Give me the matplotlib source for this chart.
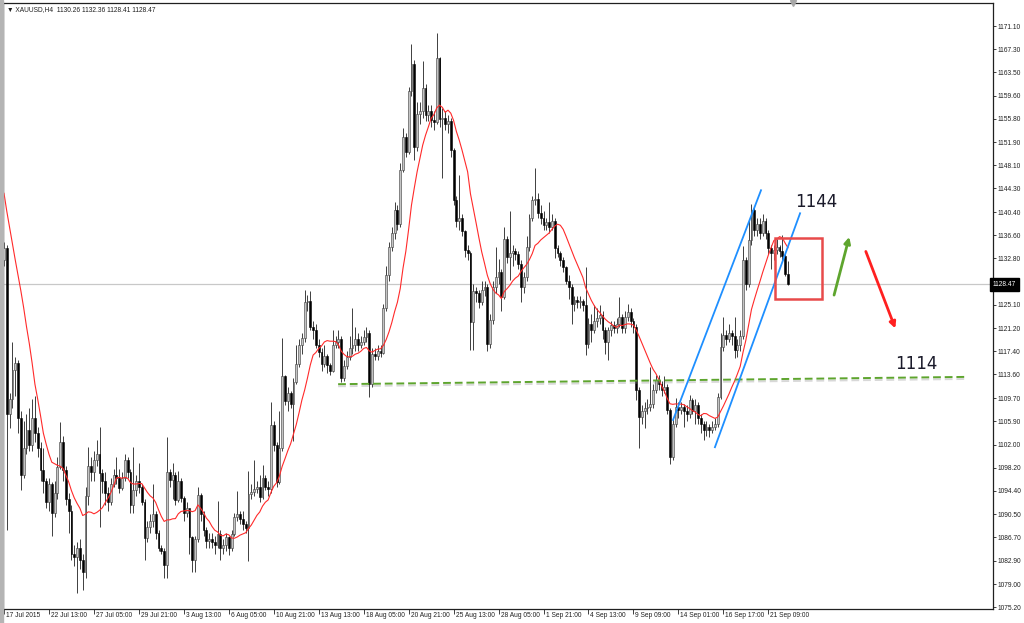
import numpy as np
import pandas as pd
import matplotlib
matplotlib.use("Agg")
from matplotlib import pyplot as plt
from matplotlib import patheffects as pe
from matplotlib import transforms as mtrans

# XAUUSD H4 (bar index 0 = 17 Jul 2015)
first_open = 1132.5
closes = [
    1134.5, 1107.0, 1109.5, 1114.3, 1115.5, 1106.5, 1097.0, 1101.5, 1104.5, 1102.0,
    1106.5, 1104.0, 1101.5, 1097.8, 1096.0, 1092.5, 1095.5, 1090.7, 1094.0, 1098.4,
    1102.5, 1097.8, 1093.0, 1091.0, 1084.0, 1083.5, 1085.0, 1083.0, 1081.0, 1093.5,
    1098.5, 1097.5, 1099.5, 1100.5, 1097.3, 1096.0, 1094.0, 1092.5, 1095.5, 1097.0,
    1096.5, 1094.8, 1096.5, 1099.5, 1097.5, 1092.0, 1094.5, 1096.0, 1095.0, 1092.5,
    1086.6, 1088.5, 1089.5, 1090.5, 1087.4, 1085.0, 1084.5, 1082.2, 1097.5, 1096.2,
    1097.0, 1092.9, 1096.0, 1093.2, 1090.7, 1091.5, 1086.8, 1083.0, 1086.5, 1093.7,
    1090.5, 1088.0, 1086.1, 1086.5, 1086.0, 1085.5, 1087.3, 1085.0, 1085.5, 1086.7,
    1084.9, 1087.3, 1090.1, 1090.5, 1089.8, 1088.9, 1088.3, 1093.8, 1094.2, 1094.7,
    1095.0, 1093.4, 1096.5, 1095.0, 1094.7, 1105.3, 1102.0, 1095.9, 1101.4, 1113.3,
    1109.3, 1110.5, 1108.7, 1112.4, 1115.4, 1118.5, 1119.7, 1125.5, 1125.8, 1121.5,
    1121.0, 1118.5, 1117.3, 1115.4, 1116.6, 1115.1, 1114.2, 1118.5, 1119.0, 1119.5,
    1113.0, 1115.0, 1116.5, 1118.0, 1118.5, 1119.5, 1118.5, 1119.0, 1119.8, 1120.4,
    1112.1, 1117.0, 1116.6, 1117.5, 1117.2, 1124.6, 1130.0, 1134.7, 1136.9, 1140.7,
    1138.5, 1147.3, 1152.8, 1150.3, 1160.3, 1164.9, 1151.2, 1156.6, 1157.0, 1160.8,
    1156.4, 1157.0, 1155.6, 1155.2, 1165.8, 1155.7, 1156.0, 1155.0, 1155.5, 1150.6,
    1142.4, 1139.0, 1139.5, 1137.2, 1134.1, 1133.6, 1122.3, 1127.3, 1127.0, 1125.5,
    1127.5, 1128.0, 1118.7, 1122.6, 1128.1, 1129.7, 1130.5, 1126.4, 1136.0, 1133.0,
    1133.6, 1134.0, 1133.5, 1131.9, 1128.1, 1129.7, 1134.7, 1139.4, 1142.4, 1142.5,
    1140.2, 1139.5, 1138.3, 1138.8, 1138.0, 1139.0, 1134.4, 1133.6, 1132.5, 1131.4,
    1129.0, 1128.1, 1125.3, 1125.9, 1125.5, 1125.7, 1125.0, 1118.7, 1122.0, 1121.0,
    1122.5, 1123.0, 1123.4, 1120.9, 1119.0, 1120.9, 1121.8, 1121.2, 1122.0, 1123.1,
    1121.2, 1123.1, 1123.9, 1122.5, 1121.5, 1111.0, 1106.6, 1107.5, 1108.0, 1108.3,
    1108.8, 1111.0, 1112.7, 1112.0, 1111.0, 1111.6, 1107.7, 1100.0, 1105.5, 1108.3,
    1107.7, 1108.2, 1107.5, 1107.0, 1109.4, 1107.5, 1108.5, 1106.5, 1105.5, 1104.4,
    1105.0, 1104.5, 1105.0, 1105.5, 1109.9, 1118.2, 1120.1, 1119.5, 1120.5, 1119.9,
    1117.6, 1118.5, 1120.0, 1132.5, 1128.6, 1135.8, 1140.7, 1137.5, 1138.5, 1137.0,
    1139.0, 1136.9, 1134.5, 1133.6, 1134.1, 1134.6, 1134.0, 1133.2, 1130.26, 1128.47,
]
highs = [
    1135.5, 1135.0, 1110.5, 1119.0, 1116.5, 1116.0, 1107.5, 1106.0, 1107.0, 1108.0,
    1109.6, 1110.0, 1105.0, 1102.5, 1101.5, 1096.5, 1096.5, 1095.8, 1096.0, 1100.0,
    1105.8, 1103.5, 1098.5, 1094.0, 1092.0, 1085.5, 1086.0, 1086.5, 1084.0, 1095.0,
    1101.7, 1100.0, 1100.9, 1102.8, 1105.0, 1098.0, 1097.5, 1095.0, 1096.5, 1098.0,
    1100.0, 1098.0, 1097.5, 1100.5, 1100.0, 1098.0, 1101.6, 1097.0, 1099.0, 1095.5,
    1093.0, 1089.5, 1090.5, 1095.6, 1091.0, 1088.0, 1085.5, 1085.0, 1103.3, 1098.0,
    1099.0, 1097.5, 1097.7, 1096.5, 1093.5, 1092.5, 1091.5, 1087.0, 1087.0, 1095.0,
    1094.0, 1091.0, 1088.5, 1087.5, 1087.5, 1087.0, 1092.8, 1088.0, 1086.5, 1087.5,
    1087.0, 1088.0, 1090.7, 1094.4, 1091.0, 1091.0, 1089.5, 1097.7, 1095.5, 1099.5,
    1096.0, 1097.0, 1098.6, 1097.0, 1096.0, 1109.0, 1106.0, 1102.5, 1107.5, 1119.7,
    1113.5, 1111.5, 1110.8, 1113.0, 1118.5, 1119.5, 1120.5, 1127.6, 1126.7, 1127.3,
    1122.5, 1122.0, 1119.5, 1118.0, 1118.5, 1117.0, 1115.5, 1120.9, 1120.0, 1121.0,
    1120.0, 1116.0, 1117.5, 1120.0, 1124.6, 1121.5, 1120.5, 1120.0, 1121.0, 1121.5,
    1121.0, 1118.0, 1118.0, 1118.5, 1118.5, 1125.3, 1131.5, 1135.5, 1138.0, 1142.0,
    1141.5, 1148.5, 1154.2, 1153.5, 1161.0, 1168.2, 1165.5, 1158.5, 1158.5, 1165.3,
    1161.5, 1158.0, 1158.0, 1157.0, 1170.0, 1166.0, 1157.5, 1157.0, 1156.5, 1156.0,
    1151.0, 1143.0, 1146.5, 1140.0, 1137.5, 1135.0, 1134.0, 1128.5, 1128.0, 1127.5,
    1129.0, 1129.0, 1128.5, 1123.5, 1129.0, 1134.7, 1132.7, 1131.0, 1138.0, 1136.5,
    1140.5, 1135.0, 1134.5, 1134.0, 1132.5, 1130.5, 1136.5, 1140.1, 1143.0, 1147.7,
    1143.5, 1141.5, 1140.5, 1139.5, 1142.0, 1140.0, 1139.5, 1135.0, 1134.0, 1133.0,
    1131.5, 1130.0, 1128.5, 1126.5, 1126.5, 1126.5, 1126.0, 1131.4, 1123.0, 1123.5,
    1125.0, 1124.5, 1125.0, 1124.0, 1121.5, 1121.5, 1122.5, 1122.5, 1123.0, 1126.4,
    1123.5, 1124.0, 1125.3, 1124.5, 1123.0, 1122.0, 1111.5, 1108.5, 1109.0, 1109.5,
    1114.9, 1112.0, 1113.5, 1113.5, 1112.5, 1113.3, 1112.0, 1108.0, 1106.5, 1109.7,
    1109.0, 1109.0, 1108.8, 1108.5, 1110.2, 1109.8, 1109.5, 1109.0, 1107.0, 1106.0,
    1106.0, 1105.5, 1106.0, 1106.5, 1110.5, 1120.5, 1123.1, 1121.0, 1122.0, 1121.0,
    1123.1, 1119.5, 1121.0, 1134.8, 1133.0, 1139.3, 1141.8, 1141.3, 1139.5, 1139.5,
    1140.0, 1139.5, 1137.5, 1135.0, 1135.0, 1136.0, 1135.0, 1136.6, 1133.5, 1132.36,
]
lows = [
    1131.5, 1088.0, 1104.7, 1108.0, 1110.0, 1104.0, 1094.5, 1096.5, 1100.5, 1101.0,
    1101.0, 1102.5, 1100.0, 1096.0, 1094.0, 1091.5, 1091.0, 1087.0, 1090.0, 1093.0,
    1098.0, 1096.0, 1092.0, 1087.5, 1083.0, 1082.0, 1077.5, 1081.5, 1078.0, 1080.0,
    1092.0, 1096.0, 1096.0, 1098.5, 1088.5, 1094.0, 1092.0, 1091.0, 1092.0, 1095.0,
    1095.5, 1094.0, 1094.5, 1096.0, 1096.5, 1090.7, 1090.7, 1093.5, 1094.0, 1092.0,
    1083.0, 1086.0, 1087.5, 1088.5, 1086.5, 1084.5, 1084.0, 1080.0, 1080.0, 1095.0,
    1093.0, 1092.0, 1092.5, 1092.5, 1089.5, 1090.0, 1084.0, 1081.0, 1081.0, 1086.0,
    1089.5, 1087.0, 1084.9, 1085.0, 1085.0, 1084.0, 1085.0, 1083.0, 1084.0, 1084.5,
    1083.8, 1084.5, 1087.0, 1089.5, 1089.0, 1088.0, 1087.5, 1082.8, 1093.0, 1093.5,
    1094.0, 1092.5, 1093.0, 1094.5, 1093.5, 1094.0, 1101.0, 1095.0, 1095.5, 1101.0,
    1108.5, 1107.5, 1108.0, 1102.6, 1112.0, 1114.8, 1116.9, 1119.0, 1124.0, 1121.0,
    1119.5, 1117.9, 1116.5, 1114.2, 1114.8, 1113.9, 1113.5, 1114.0, 1118.0, 1118.0,
    1112.3, 1112.5, 1114.5, 1116.0, 1117.0, 1117.5, 1117.5, 1118.0, 1118.5, 1119.0,
    1109.9, 1111.5, 1116.0, 1116.0, 1116.5, 1117.0, 1124.0, 1129.0, 1134.0, 1136.0,
    1137.5, 1138.0, 1147.0, 1149.5, 1150.0, 1159.5, 1149.0, 1150.5, 1155.0, 1156.0,
    1155.5, 1155.5, 1154.5, 1154.0, 1155.0, 1154.5, 1146.0, 1154.0, 1153.5, 1149.5,
    1141.5, 1138.0, 1137.5, 1136.5, 1133.0, 1132.5, 1117.7, 1117.7, 1125.5, 1124.5,
    1125.0, 1126.5, 1117.5, 1118.0, 1122.0, 1127.0, 1128.5, 1124.0, 1126.0, 1132.0,
    1129.2, 1131.5, 1132.5, 1131.0, 1125.6, 1127.0, 1129.0, 1134.0, 1139.0, 1141.5,
    1139.5, 1138.5, 1137.5, 1137.5, 1137.0, 1137.5, 1132.9, 1133.0, 1131.5, 1130.5,
    1128.5, 1126.0, 1122.0, 1124.0, 1124.5, 1124.5, 1124.0, 1116.8, 1118.0, 1119.0,
    1120.5, 1121.5, 1122.0, 1119.5, 1117.0, 1116.0, 1120.0, 1120.5, 1120.5, 1121.5,
    1120.5, 1120.5, 1122.5, 1121.5, 1120.5, 1109.4, 1101.4, 1105.5, 1104.8, 1107.0,
    1107.5, 1108.0, 1110.5, 1111.0, 1110.0, 1110.5, 1107.0, 1098.8, 1099.5, 1105.0,
    1106.5, 1107.0, 1105.0, 1106.0, 1106.5, 1107.0, 1105.5, 1105.5, 1104.0, 1102.8,
    1103.5, 1103.3, 1104.0, 1104.5, 1105.0, 1109.5, 1117.5, 1118.5, 1119.0, 1118.5,
    1116.4, 1116.5, 1117.5, 1119.5, 1127.5, 1128.0, 1135.0, 1136.5, 1136.5, 1136.0,
    1136.5, 1136.0, 1133.5, 1131.0, 1132.5, 1133.5, 1133.0, 1132.5, 1129.8, 1128.41,
]
# moving average on screen before its window is filled (needs history off-chart)
ma_head = [1143.5, 1140.5, 1137.8, 1135.0, 1132.5, 1130.0, 1127.4, 1124.6,
           1121.5, 1118.7, 1115.5, 1112.0, 1109.5, 1106.8]
ma_period = 12

date_labels = ["17 Jul 2015", "22 Jul 13:00", "27 Jul 05:00", "29 Jul 21:00",
               "3 Aug 13:00", "6 Aug 05:00", "10 Aug 21:00", "13 Aug 13:00",
               "18 Aug 05:00", "20 Aug 21:00", "25 Aug 13:00", "28 Aug 05:00",
               "1 Sep 21:00", "4 Sep 13:00", "9 Sep 09:00", "14 Sep 01:00",
               "16 Sep 17:00", "21 Sep 09:00"]
label_every = 16
price_ticks = [1075.20, 1079.00, 1082.90, 1086.70, 1090.50, 1094.40, 1098.20,
               1102.00, 1105.90, 1109.70, 1113.60, 1117.40, 1121.20, 1125.10,
               1132.80, 1136.60, 1140.40, 1144.30, 1148.10, 1151.90,
               1155.80, 1159.60, 1163.50, 1167.30, 1171.10]
last_price = 1128.47
header = "XAUUSD,H4  1130.26 1132.36 1128.41 1128.47"

# hand-drawn objects, in (bar, price)
support = [(118.9, 1112.0), (342.0, 1113.2)]
channel_a = [(238.1, 1106.1), (269.4, 1144.0)]
channel_b = [(253.0, 1101.6), (283.3, 1140.2)]
box = (274.5, 1126.0, 291.2, 1136.2)
arrow_up = [(295.4, 1126.7), (300.8, 1136.3)]
arrow_down = [(306.7, 1133.9), (317.2, 1121.2)]
level_hi = (289.0, 1142.1, "1144")
level_lo = (324.6, 1115.3, "1114")

opens = [first_open] + closes[:-1]
n = len(closes)
x = np.arange(n)
o = np.array(opens)
c = np.array(closes)

ma = pd.Series(closes).rolling(ma_period).mean()
ma.iloc[:len(ma_head)] = ma_head

fig = plt.figure(figsize=(10.24, 6.23), dpi=100)
ax = fig.add_axes([3 / 1024, 1 - 609 / 623, 990 / 1024, 606 / 623])
ax.set_xlim(-0.36, 351.96)
ax.set_ylim(1074.9, 1174.9)

fnt = "Liberation Sans"
small = 4.8

# current price line
ax.axhline(last_price, color="#c8c8c8", lw=0.9, zorder=1)

# candles
ax.vlines(x, lows, highs, color="#202020", lw=0.6, zorder=2)
up = c >= o
body = np.maximum(np.abs(c - o), 0.15)
bottom = np.minimum(o, c)
ax.bar(x[up], body[up], bottom=bottom[up], width=0.66, color="#c4c4c4",
       edgecolor="#3a3a3a", linewidth=0.4, zorder=3)
ax.bar(x[~up], body[~up], bottom=bottom[~up], width=0.66, color="black",
       edgecolor="black", linewidth=0.4, zorder=3)

ax.plot(x, ma, color="#ff2a2a", lw=0.8, zorder=4)

# support line with a soft shadow
ax.plot([p[0] for p in support], [p[1] for p in support], color="#5ea52e",
        lw=1.4, ls=(0, (4, 2)), zorder=5,
        path_effects=[pe.SimpleLineShadow(offset=(0, -1.5), shadow_color="#909090", alpha=0.35),
                      pe.Normal()])

for ln in (channel_a, channel_b):
    ax.plot([p[0] for p in ln], [p[1] for p in ln], color="#1e8fff", lw=1.3, zorder=5)

ax.add_patch(plt.Rectangle((box[0], box[1]), box[2] - box[0], box[3] - box[1],
                           fill=False, edgecolor="#e84a4a", lw=1.8, zorder=6))

for (a, b), col in ((arrow_up, "#5ea52e"), (arrow_down, "#ff2020")):
    ax.annotate("", xy=b, xytext=a,
                arrowprops=dict(arrowstyle="-|>", color=col, lw=2, mutation_scale=9,
                                shrinkA=0, shrinkB=0), zorder=6)

for tx, ty, s in (level_hi, level_lo):
    ax.text(tx, ty, s, fontsize=12, color="#1a1a2a", ha="center", va="center",
            family="DejaVu Sans", zorder=7)

# axes styling
for side in ("top", "right", "bottom"):
    ax.spines[side].set_color("#202020")
    ax.spines[side].set_linewidth(0.9)
ax.spines["left"].set_color("#606060")
ax.spines["left"].set_linewidth(1.0)

ax.yaxis.tick_right()
ax.set_yticks(price_ticks)
ax.set_yticklabels(["%.2f" % v for v in price_ticks])
ax.tick_params(axis="y", direction="out", length=2, width=0.6, pad=1,
               labelsize=small, colors="#202020")

ax.set_xticks(np.arange(0, label_every * len(date_labels), label_every))
ax.set_xticklabels(date_labels)
ax.tick_params(axis="x", direction="out", length=3.5, width=0.6, pad=-1.5,
               labelsize=small, colors="#202020")
shift = mtrans.ScaledTranslation(2 / 100, 0, fig.dpi_scale_trans)
for lab in ax.get_xticklabels():
    lab.set_horizontalalignment("left")
    lab.set_transform(lab.get_transform() + shift)
    lab.set_family(fnt)
for lab in ax.get_yticklabels():
    lab.set_family(fnt)

# last price flag on the price scale
ax.text(1.0, last_price, "%.2f" % last_price,
        transform=mtrans.blended_transform_factory(ax.transAxes, ax.transData),
        fontsize=small, color="white", family=fnt, ha="left", va="center",
        bbox=dict(boxstyle="square,pad=0.45", fc="black", ec="black"),
        zorder=10, clip_on=False)

# header
ax.text(4 / 990, 1 - 7 / 606, "\u25bc " + header, transform=ax.transAxes,
        fontsize=small, color="#202020", family=[fnt, "DejaVu Sans"],
        ha="left", va="center")

# chart shift marker
ax.plot([280.8], [1174.9], marker="v", ms=4, color="#a8a8a8", clip_on=False, zorder=10)

# window frame at the left edge
fig.patches.append(plt.Rectangle((0, 0), 2.5 / 1024, 1, transform=fig.transFigure,
                                 color="#b4b4b4", zorder=0))

fig.savefig("out.png", dpi=100, facecolor="white")
